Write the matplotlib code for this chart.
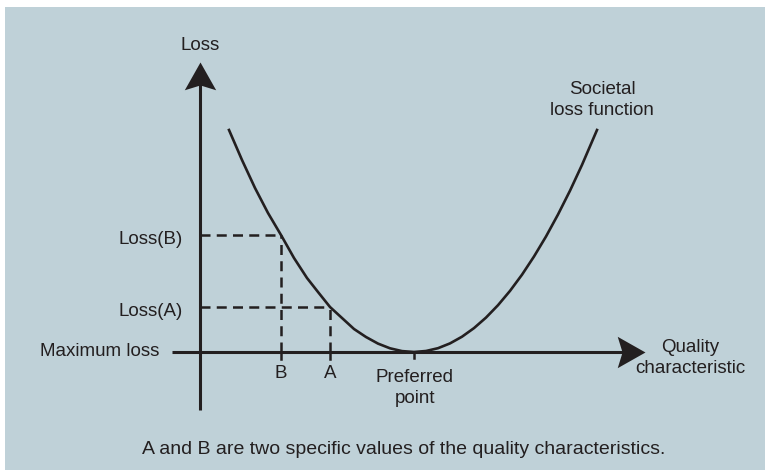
import matplotlib.pyplot as plt
from matplotlib.patches import Rectangle
from matplotlib.path import Path

plt.rcParams['font.family'] = ['Liberation Sans', 'DejaVu Sans']

# quality characteristic vs. societal loss
quality = [29, 42, 55, 68, 81, 94, 107, 118, 130, 142, 154, 166, 178, 190, 202, 214,
           226, 238, 250, 262, 274, 286, 298, 310, 322, 334, 346, 358, 370, 382, 397]
loss = [222, 192, 164, 139, 117, 94, 74, 60, 45, 34, 23, 15, 8.4, 3.7, 0.9, 0,
        1.0, 3.8, 8.6, 15.3, 23.9, 34.4, 46.8, 61.1, 77.3, 95.5, 115.5, 137.5, 161.3, 187.1, 222]

point_names = ['B', 'A']
point_x = [81, 130]
point_loss = [117, 45]
preferred_x = 214

BG = '#bfd1d8'
INK = '#231f20'

# notched arrow heads, tip at the marker origin
head_up = Path([(0, 0), (13, -23), (0, -19), (-13, -23), (0, 0)],
               [Path.MOVETO, Path.LINETO, Path.LINETO, Path.LINETO, Path.CLOSEPOLY])
head_right = Path([(0, 0), (-23, 13), (-19, 0), (-23, -13), (0, 0)],
                  [Path.MOVETO, Path.LINETO, Path.LINETO, Path.LINETO, Path.CLOSEPOLY])
head_ms = 40

fig = plt.figure(figsize=(7.65, 4.7), dpi=100, facecolor='white')
fig.patches.append(Rectangle((5 / 765, 0), 760 / 765, 463 / 470, transform=fig.transFigure,
                             facecolor=BG, edgecolor='none', zorder=-10))
ax = fig.add_axes([0, 0, 1, 1])
ax.set_xlim(-200, 565)
ax.set_ylim(-118, 352)
ax.axis('off')
ax.patch.set_alpha(0)

fs = 13.5

# axes with arrows
ax.plot([0, 0], [-58, 278], color=INK, lw=2.2, solid_capstyle='butt')
ax.plot([0], [290], marker=head_up, ms=head_ms, color=INK, mew=0)
ax.plot([-28, 433], [0, 0], color=INK, lw=2.2, solid_capstyle='butt')
ax.plot([445], [0], marker=head_right, ms=head_ms, color=INK, mew=0)

# loss curve
ax.plot(quality, loss, color=INK, lw=1.9, solid_joinstyle='round')

# dashed guides and ticks
for name, px, pl in zip(point_names, point_x, point_loss):
    ax.plot([0, px], [pl, pl], color=INK, lw=1.8, dashes=(4, 2.5))
    ax.plot([px, px], [0, pl], color=INK, lw=1.8, dashes=(4, 2.5))
    ax.plot([px, px], [0, -7], color=INK, lw=1.8)
    ax.text(px, -21, name, ha='center', va='center', fontsize=fs, color=INK)
    ax.text(-17, pl - 5, f'Loss({name})', ha='right', va='center', fontsize=fs, color=INK)

ax.plot([preferred_x, preferred_x], [0, -6], color=INK, lw=1.8)
ax.text(preferred_x + 1, -36, 'Preferred\npoint', ha='center', va='center',
        fontsize=fs, color=INK, linespacing=1.3)

ax.text(-41, 0, 'Maximum loss', ha='right', va='center', fontsize=fs, color=INK)
ax.text(0, 307, 'Loss', ha='center', va='center', fontsize=fs, color=INK)
ax.text(490, -6, 'Quality\ncharacteristic', ha='center', va='center',
        fontsize=fs, color=INK, linespacing=1.3)
ax.text(402, 252, 'Societal\nloss function', ha='center', va='center',
        fontsize=fs, color=INK, linespacing=1.3)

ax.text(204, -98, 'A and B are two specific values of the quality characteristics.',
        ha='center', va='center', fontsize=14, color=INK)

fig.savefig('out.png', dpi=100, facecolor='white')
